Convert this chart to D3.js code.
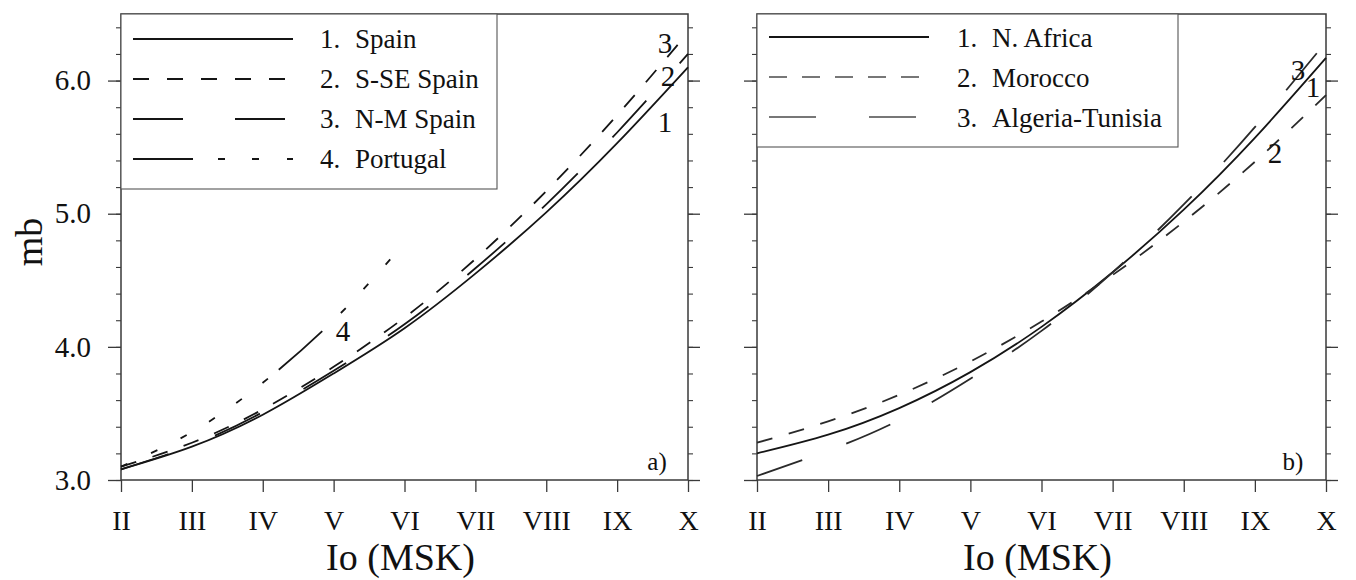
<!DOCTYPE html>
<html>
<head>
<meta charset="utf-8">
<script src="https://cdn.jsdelivr.net/npm/d3@7"></script>
<style>
  html, body { margin: 0; padding: 0; background: #fff; }
  svg { display: block; }
  text { font-family: "Liberation Serif", "DejaVu Serif", serif; fill: #111; }
</style>
</head>
<body>
<svg id="chart" width="1356" height="580"></svg>
<script>
// ---------- data ----------
const intensities = [2, 3, 4, 5, 6, 7, 8, 9, 10];
const romanLabels = ["II", "III", "IV", "V", "VI", "VII", "VIII", "IX", "X"];
const yTicksMajor = [3.0, 4.0, 5.0, 6.0];

// panel a)
const spainMb    = [3.08, 3.25, 3.49, 3.80, 4.14, 4.55, 5.01, 5.53, 6.10];
const sseSpainMb = [3.10, 3.28, 3.53, 3.85, 4.22, 4.66, 5.17, 5.74, 6.36];
const nmSpainMb  = [3.08, 3.26, 3.51, 3.82, 4.17, 4.59, 5.07, 5.61, 6.20];
const portugalIo = [2, 3, 4, 5, 5.82];
const portugalMb = [3.10, 3.36, 3.73, 4.20, 4.67];

// panel b)
const nAfricaMb  = [3.20, 3.34, 3.54, 3.81, 4.15, 4.56, 5.03, 5.57, 6.17];
const moroccoMb  = [3.28, 3.44, 3.64, 3.89, 4.19, 4.54, 4.94, 5.39, 5.89];
const algTunMb   = [3.03, 3.22, 3.45, 3.76, 4.12, 4.56, 5.07, 5.65, 6.29];

const legendA = ["Spain", "S-SE Spain", "N-M Spain", "Portugal"];
const legendB = ["N. Africa", "Morocco", "Algeria-Tunisia"];

// ---------- layout ----------
const svg = d3.select("#chart");
const y = d3.scaleLinear().domain([3, 6.5]).range([480, 14]);
const xA = d3.scaleLinear().domain([2, 10]).range([121, 688]);
const xB = d3.scaleLinear().domain([2, 10]).range([757, 1326]);
const minorTicks = d3.range(3, 6.51, 0.2).map(v => +v.toFixed(1));
const serif = '"Liberation Serif", "DejaVu Serif", serif';
const frameColor = "#3a3a3a";

function zip(xs, ys) { return xs.map((v, i) => ({ i: v, v: ys[i] })); }

function panel(x, opts) {
  const g = svg.append("g");
  const [x0, x1] = x.range();
  // x axis
  const ax = g.append("g").attr("transform", "translate(0,480)")
    .call(d3.axisBottom(x).tickValues(intensities)
      .tickFormat((d, i) => romanLabels[i]).tickSize(12).tickPadding(18));
  ax.select(".domain").remove();
  ax.selectAll("line").attr("stroke", frameColor).attr("stroke-width", 1.3);
  ax.selectAll("text").attr("font-family", serif).attr("font-size", 28).attr("fill", "#111");

  // left axis
  const ayMin = g.append("g").attr("transform", `translate(${x0},0)`)
    .call(d3.axisLeft(y).tickValues(minorTicks).tickSize(5).tickFormat(""));
  ayMin.select(".domain").remove();
  ayMin.selectAll("line").attr("stroke", frameColor).attr("stroke-width", 1.1);
  const ay = g.append("g").attr("transform", `translate(${x0},0)`)
    .call(d3.axisLeft(y).tickValues(yTicksMajor).tickSize(13).tickPadding(17)
      .tickFormat(opts.yLabels ? d3.format(".1f") : ""));
  ay.select(".domain").remove();
  ay.selectAll("line").attr("stroke", frameColor).attr("stroke-width", 1.3);
  ay.selectAll("text").attr("font-family", serif).attr("font-size", 29).attr("fill", "#111");

  // right axis
  const arMin = g.append("g").attr("transform", `translate(${x1},0)`)
    .call(d3.axisRight(y).tickValues(minorTicks).tickSize(5).tickFormat(""));
  arMin.select(".domain").remove();
  arMin.selectAll("line").attr("stroke", frameColor).attr("stroke-width", 1.1);
  const ar = g.append("g").attr("transform", `translate(${x1},0)`)
    .call(d3.axisRight(y).tickValues(yTicksMajor).tickSize(12).tickFormat(""));
  ar.select(".domain").remove();
  ar.selectAll("line").attr("stroke", frameColor).attr("stroke-width", 1.3);

  // frame
  g.append("rect").attr("x", x0).attr("y", y(6.5)).attr("width", x1 - x0)
    .attr("height", y(3) - y(6.5)).attr("fill", "none")
    .attr("stroke", frameColor).attr("stroke-width", 1.5);

  // axis title
  g.append("text").attr("x", (x0 + x1) / 2 - 4).attr("y", 570).attr("text-anchor", "middle")
    .attr("font-size", 38).text("Io (MSK)");
  return g;
}

const line = (x) => d3.line().x(d => x(d.i)).y(d => y(d.v)).curve(d3.curveNatural);

// ---------- panel a ----------
const gA = panel(xA, { yLabels: true });
svg.append("text").attr("transform", "translate(42,242) rotate(-90)")
  .attr("text-anchor", "middle").attr("font-size", 38).text("mb");

const stylesA = [
  { data: zip(intensities, spainMb), dash: null },
  { data: zip(intensities, sseSpainMb), dash: "16,17" },
  { data: zip(intensities, nmSpainMb), dash: "50,50" },
  { data: zip(portugalIo, portugalMb), dash: "7,26,7,26,7,26,7,26,7,26,7,14,58,26,7,26,7,26,7,600" }
];
stylesA.forEach(s => {
  gA.append("path").datum(s.data).attr("d", line(xA)).attr("fill", "none")
    .attr("stroke", "#151515").attr("stroke-width", 1.8)
    .attr("stroke-dasharray", s.dash);
});
[["3", 665, 53], ["2", 668, 86], ["1", 665, 132], ["4", 343, 341]].forEach(([t, px, py]) => {
  gA.append("text").attr("x", px).attr("y", py).attr("text-anchor", "middle")
    .attr("font-size", 29).text(t);
});
gA.append("text").attr("x", 657).attr("y", 470).attr("text-anchor", "middle")
  .attr("font-size", 25).text("a)");

// legend a
gA.append("rect").attr("x", 121).attr("y", 14).attr("width", 376).attr("height", 175)
  .attr("fill", "#fff").attr("stroke", "#555").attr("stroke-width", 1.1);
const legDashA = [null, "16,18", "50,52", "60,25,7,27,7,28,7,100"];
const legEndA = [293, 293, 285, 293];
legendA.forEach((name, k) => {
  const ly = 39 + k * 40;
  gA.append("line").attr("x1", 133).attr("x2", legEndA[k]).attr("y1", ly).attr("y2", ly)
    .attr("stroke", "#151515").attr("stroke-width", 1.8).attr("stroke-dasharray", legDashA[k]);
  gA.append("text").attr("x", 320).attr("y", ly + 9).attr("font-size", 27).text((k + 1) + ".");
  gA.append("text").attr("x", 355).attr("y", ly + 9).attr("font-size", 27).text(name);
});

// ---------- panel b ----------
const gB = panel(xB, { yLabels: false });
const stylesB = [
  { data: zip(intensities, nAfricaMb), dash: null, color: "#151515" },
  { data: zip(intensities, moroccoMb), dash: "16,17", color: "#2a2a2a" },
  { data: zip(intensities, algTunMb), dash: "48,47", color: "#2a2a2a" }
];
stylesB.forEach(s => {
  gB.append("path").datum(s.data).attr("d", line(xB)).attr("fill", "none")
    .attr("stroke", s.color).attr("stroke-width", 1.8)
    .attr("stroke-dasharray", s.dash);
});
[["3", 1298, 80], ["1", 1313, 97], ["2", 1275, 163]].forEach(([t, px, py]) => {
  gB.append("text").attr("x", px).attr("y", py).attr("text-anchor", "middle")
    .attr("font-size", 29).text(t);
});
gB.append("text").attr("x", 1293).attr("y", 470).attr("text-anchor", "middle")
  .attr("font-size", 25).text("b)");

// legend b
gB.append("rect").attr("x", 757).attr("y", 14).attr("width", 421).attr("height", 133)
  .attr("fill", "#fff").attr("stroke", "#555").attr("stroke-width", 1.1);
const legDashB = [null, "18,15", "47,53"];
const legColB = ["#151515", "#777", "#777"];
const legEndB = [929, 929, 920];
legendB.forEach((name, k) => {
  const ly = 37 + k * 40;
  gB.append("line").attr("x1", 769).attr("x2", legEndB[k]).attr("y1", ly).attr("y2", ly)
    .attr("stroke", legColB[k]).attr("stroke-width", 1.8).attr("stroke-dasharray", legDashB[k]);
  gB.append("text").attr("x", 957).attr("y", ly + 10).attr("font-size", 27).text((k + 1) + ".");
  gB.append("text").attr("x", 992).attr("y", ly + 10).attr("font-size", 27).text(name);
});
</script>
</body>
</html>
